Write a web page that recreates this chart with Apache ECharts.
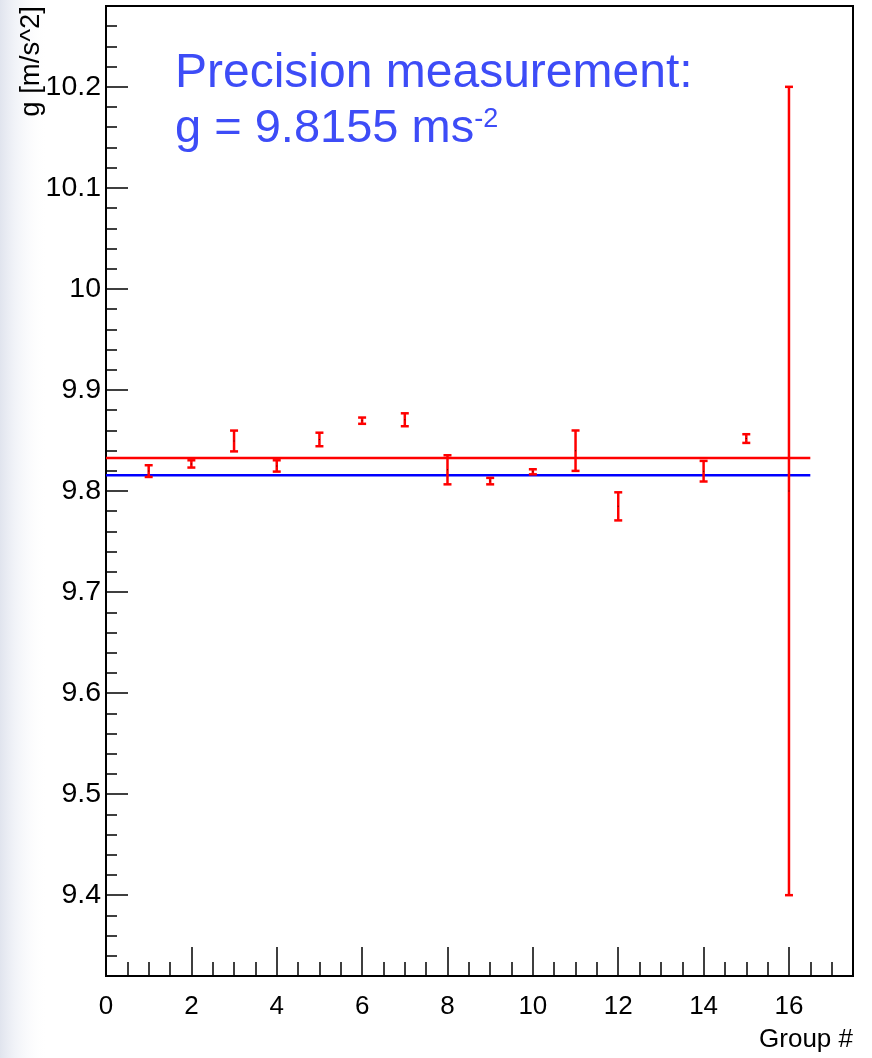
<!DOCTYPE html>
<html>
<head>
<meta charset="utf-8">
<title>g measurements by group</title>
<script src="https://cdn.jsdelivr.net/npm/echarts@6/dist/echarts.min.js"></script>
<style>
  html, body { margin: 0; padding: 0; background: #ffffff; }
  #chart { width: 872px; height: 1058px; }
</style>
</head>
<body>
<div id="chart"></div>
<script>
// Measured g per group, with its uncertainty
const groups = [1, 2, 3, 4, 5, 6, 7, 8, 9, 10, 11, 12, 14, 15, 16];
const gValues = [9.8197, 9.8268, 9.8495, 9.8248, 9.8510, 9.8696, 9.8705, 9.8210, 9.8098, 9.8190, 9.8399, 9.7848, 9.8196, 9.8519, 9.8000];
const gErrors = [0.0058, 0.0036, 0.0103, 0.0056, 0.0067, 0.0031, 0.0064, 0.0144, 0.0032, 0.0025, 0.0200, 0.0139, 0.0102, 0.0043, 0.4000];

// Reference levels: the mean of the groups and the precision value
const meanG = 9.8326;
const precisionG = 9.8155;
const lineSpan = [0, 16.5];

// Axis ranges and tick labels
const xRange = [0, 17.5];
const yRange = [9.32, 10.28];
const xMajorTicks = [0, 2, 4, 6, 8, 10, 12, 14, 16];
const yMajorTicks = [9.4, 9.5, 9.6, 9.7, 9.8, 9.9, 10.0, 10.1, 10.2];

const FONT = "'Liberation Sans', Arial, Helvetica, sans-serif";
const RED = '#ff0000';
const BLUE = '#0000ff';
const TEXT_BLUE = '#3d4cf7';

function steps(from, to, step) {
  const out = [];
  const n = Math.round((to - from) / step);
  for (let i = 0; i <= n; i++) out.push(+(from + i * step).toFixed(4));
  return out;
}
const xMinorTicks = steps(xRange[0], xRange[1], 0.5);
const yMinorTicks = steps(yRange[0], yRange[1], 0.02);

const errorData = groups.map((x, i) => [x, gValues[i], gErrors[i]]);

const chart = echarts.init(document.getElementById('chart'), null, { renderer: 'canvas' });

const axisLineStyle = { color: '#000', width: 2 };

chart.setOption({
  animation: false,
  backgroundColor: '#ffffff',
  grid: { left: 106, top: 6, right: 19, bottom: 82, containLabel: false,
          show: true, borderColor: '#000', borderWidth: 2 },
  xAxis: [
    {
      type: 'value', min: xRange[0], max: xRange[1],
      splitLine: { show: false },
      axisLine: { show: true, lineStyle: axisLineStyle },
      axisTick: { show: true, inside: true, length: 29, customValues: xMajorTicks,
                  lineStyle: { color: '#000', width: 1.5 } },
      axisLabel: { show: true, customValues: xMajorTicks, margin: 18,
                   fontFamily: FONT, fontSize: 26, color: '#000' }
    },
    {
      type: 'value', min: xRange[0], max: xRange[1], position: 'bottom',
      splitLine: { show: false },
      axisLine: { show: false },
      axisTick: { show: true, inside: true, length: 14, customValues: xMinorTicks,
                  lineStyle: { color: '#000', width: 1.5 } },
      axisLabel: { show: false }
    }
  ],
  yAxis: [
    {
      type: 'value', min: yRange[0], max: yRange[1],
      splitLine: { show: false },
      axisLine: { show: true, lineStyle: axisLineStyle },
      axisTick: { show: true, inside: true, length: 22, customValues: yMajorTicks,
                  lineStyle: { color: '#000', width: 1.5 } },
      axisLabel: { show: true, customValues: yMajorTicks, margin: 5,
                   fontFamily: FONT, fontSize: 28.5, color: '#000',
                   formatter: v => String(+v.toFixed(2)) }
    },
    {
      type: 'value', min: yRange[0], max: yRange[1], position: 'left',
      splitLine: { show: false },
      axisLine: { show: false },
      axisTick: { show: true, inside: true, length: 11, customValues: yMinorTicks,
                  lineStyle: { color: '#000', width: 1.5 } },
      axisLabel: { show: false }
    }
  ],
  series: [
    {
      name: 'mean', type: 'line', xAxisIndex: 0, yAxisIndex: 0,
      data: lineSpan.map(x => [x, meanG]),
      symbol: 'none', lineStyle: { color: RED, width: 2.5 }, z: 3
    },
    {
      name: 'precision', type: 'line', xAxisIndex: 0, yAxisIndex: 0,
      data: lineSpan.map(x => [x, precisionG]),
      symbol: 'none', lineStyle: { color: BLUE, width: 2.5 }, z: 3
    },
    {
      name: 'groups', type: 'custom', xAxisIndex: 0, yAxisIndex: 0, z: 4,
      data: errorData,
      renderItem: function (params, api) {
        const x = api.value(0), y = api.value(1), e = api.value(2);
        const top = api.coord([x, y + e]);
        const bot = api.coord([x, y - e]);
        const mid = api.coord([x, y]);
        const cap = 4;
        const style = { stroke: RED, lineWidth: 2.5 };
        return {
          type: 'group',
          children: [
            { type: 'line', shape: { x1: top[0], y1: top[1], x2: bot[0], y2: bot[1] }, style },
            { type: 'line', shape: { x1: top[0] - cap, y1: top[1], x2: top[0] + cap, y2: top[1] }, style },
            { type: 'line', shape: { x1: bot[0] - cap, y1: bot[1], x2: bot[0] + cap, y2: bot[1] }, style },
            { type: 'rect', shape: { x: mid[0] - 0.5, y: mid[1] - 0.5, width: 1, height: 1 },
              style: { fill: '#400000' } }
          ]
        };
      }
    }
  ],
  graphic: [
    {
      // faint page texture along the left margin
      type: 'rect', z: -10, shape: { x: 0, y: 0, width: 48, height: 1058 },
      style: {
        fill: {
          type: 'linear', x: 0, y: 0, x2: 1, y2: 0,
          colorStops: [
            { offset: 0, color: 'rgba(214,219,232,0.75)' },
            { offset: 0.3, color: 'rgba(226,230,240,0.5)' },
            { offset: 1, color: 'rgba(255,255,255,0)' }
          ]
        }
      }
    },
    {
      type: 'text', x: 31, y: 6, rotation: Math.PI / 2,
      style: { text: 'g [m/s^2]', fontFamily: FONT, fontSize: 27.5, fill: '#000',
               align: 'right', verticalAlign: 'middle' }
    },
    {
      type: 'text', x: 853, y: 1040,
      style: { text: 'Group #', fontFamily: FONT, fontSize: 26, fill: '#000',
               align: 'right', verticalAlign: 'middle' }
    },
    {
      type: 'text', x: 175, y: 74,
      style: { text: 'Precision measurement:', fontFamily: FONT, fontSize: 48, fill: TEXT_BLUE,
               align: 'left', verticalAlign: 'middle' }
    },
    {
      type: 'text', x: 175, y: 106,
      style: {
        text: '{m|g = 9.8155 ms}{s|-2}', fontFamily: FONT, fill: TEXT_BLUE,
        align: 'left', verticalAlign: 'top',
        rich: {
          m: { fontFamily: FONT, fontSize: 47, lineHeight: 47, fill: TEXT_BLUE },
          s: { fontFamily: FONT, fontSize: 27, lineHeight: 39, verticalAlign: 'top', fill: TEXT_BLUE }
        }
      }
    }
  ]
});
</script>
</body>
</html>
